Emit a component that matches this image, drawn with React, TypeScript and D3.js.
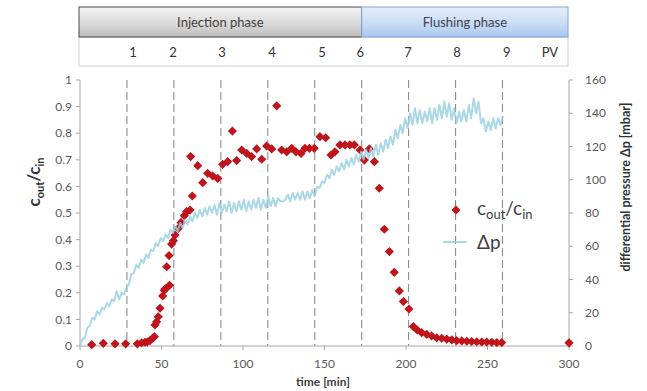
import React from "react";
import * as d3 from "d3";

const W = 647;
const H = 391;

const xTicks = [0, 50, 100, 150, 200, 250, 300];
const yLeftTicks = [0, 0.1, 0.2, 0.3, 0.4, 0.5, 0.6, 0.7, 0.8, 0.9, 1];
const yLeftLabels = ["0", "0.1", "0.2", "0.3", "0.4", "0.5", "0.6", "0.7", "0.8", "0.9", "1"];
const yRightTicks = [0, 20, 40, 60, 80, 100, 120, 140, 160];

const pvBoundaries = [28.8, 57.6, 86.4, 115.2, 144, 172.8, 201.6, 230.4, 259.2];
const pvLabels = ["1", "2", "3", "4", "5", "6", "7", "8", "9", "PV"];
const pvLabelTimes = [32.5, 57.1, 87.1, 117.8, 148.5, 172, 201.2, 231.3, 261.9, 288.3];
const phaseNames = ["Injection phase", "Flushing phase"];
const phaseEnd = 172.8;

const cTime = [
  7.2, 14.3, 21.5, 28, 35.2, 37.8, 39.9, 41.3, 42.9, 44.6, 45.6, 46, 47, 48, 49.1, 50.7, 51.7,
  52.3, 54.9, 53.2, 54.6, 56.2, 57.3, 58.3, 60.3, 62, 64, 65.4, 67.5, 68.9, 67.9, 72.2, 75.3,
  78.3, 81.4, 84.5, 87.5, 90.6, 93.5, 96.1, 99.2, 102.3, 105.3, 108.4, 111.5, 114.5, 117.6,
  120.7, 123.7, 126.8, 129.9, 132.5, 135.6, 138, 140.7, 143.7, 147.2, 150.7, 154, 156.4, 159.5,
  162.6, 165.6, 168.3, 171.8, 174.4, 177.5, 180.6, 183.6, 186.7, 189.8, 192.8, 195.9, 198.4,
  201.8, 204.5, 206.9, 209.6, 212.7, 215.7, 218.8, 221.9, 225, 228.1, 231.1, 234.2, 237.3,
  240.3, 243.4, 246.5, 249.5, 252.6, 255.7, 258.7, 300,
];
const cRatio = [
  0.005, 0.01, 0.008, 0.008, 0.008, 0.012, 0.014, 0.015, 0.02, 0.029, 0.035, 0.079, 0.091, 0.11,
  0.142, 0.188, 0.21, 0.215, 0.228, 0.298, 0.34, 0.383, 0.396, 0.417, 0.442, 0.464, 0.49, 0.505,
  0.511, 0.564, 0.712, 0.678, 0.614, 0.649, 0.639, 0.63, 0.683, 0.693, 0.808, 0.697, 0.737,
  0.724, 0.712, 0.741, 0.702, 0.752, 0.741, 0.903, 0.737, 0.73, 0.743, 0.73, 0.724, 0.743,
  0.743, 0.743, 0.787, 0.783, 0.718, 0.73, 0.756, 0.756, 0.756, 0.756, 0.737, 0.699, 0.741,
  0.693, 0.593, 0.439, 0.355, 0.277, 0.207, 0.167, 0.139, 0.073, 0.06, 0.05, 0.044, 0.038,
  0.031, 0.029, 0.026, 0.023, 0.02, 0.019, 0.018, 0.017, 0.016, 0.015, 0.015, 0.014, 0.013,
  0.013, 0.012,
];

const dpStep = 1.5;
const dpValues = [
  0, 4, 5, 11, 12, 17, 16, 21, 19, 23,
  22, 26, 24, 28, 27, 33, 28, 32, 31, 35,
  37, 43, 44, 49, 47, 52, 50, 55, 53, 58,
  57, 62, 60, 65, 63, 67, 65, 70, 68, 72,
  69, 74, 71, 76, 73, 78, 75, 80, 77, 82,
  78, 83, 79, 84, 80, 85, 79, 86, 80, 85,
  81, 87, 80, 86, 81, 87, 82, 88, 81, 87,
  82, 88, 83, 89, 82, 88, 83, 90, 84, 89,
  84, 89, 87, 87, 88, 91, 87, 92, 88, 92,
  88, 93, 88, 93, 89, 94, 90, 96, 95, 99,
  98, 103, 101, 106, 103, 108, 105, 110, 106, 112,
  108, 113, 109, 115, 111, 117, 112, 118, 113, 119,
  114, 121, 115, 122, 117, 124, 119, 126, 121, 130,
  125, 133, 128, 137, 131, 140, 133, 143, 134, 142,
  134, 141, 135, 143, 134, 143, 136, 145, 137, 147,
  138, 146, 136, 143, 134, 141, 135, 142, 135, 145,
  137, 149, 140, 147, 134, 137, 129, 135, 130, 137,
  131, 137, 133, 138,
];

const FONT = "Lato, 'Open Sans', sans-serif";
const RED = "#c0141c";
const BLUE = "#98cfe0";
const AXIS = "#a6a6a6";
const TICKTXT = "#595959";

export default function App() {
  const x = d3.scaleLinear().domain([0, 300]).range([80, 569]);
  const yL = d3.scaleLinear().domain([0, 1]).range([346, 80]);
  const yR = d3.scaleLinear().domain([0, 160]).range([346, 80]);
  const plotTop = yL(1);
  const plotBottom = yL(0);
  const left = x(0);
  const right = x(300);

  const dpLine = d3
    .line<number>()
    .x((_, i) => x(i * dpStep))
    .y((d) => yR(d));
  const diamond = d3.symbol().type(d3.symbolSquare).size(42)();

  const headTop = 7;
  const headMid = 37;
  const headBot = 66;
  const hx0 = left - 1;
  const hx1 = right - 1;
  const hSplit = x(phaseEnd);

  return (
    <svg width={W} height={H} style={{ position: "absolute", left: 0, top: 0 }} fontFamily={FONT}>
      <defs>
        <linearGradient id="gInj" x1="0" y1="0" x2="0" y2="1">
          <stop offset="0" stopColor="#f4f4f4" />
          <stop offset="0.55" stopColor="#d9d9d9" />
          <stop offset="1" stopColor="#bdbdbd" />
        </linearGradient>
        <linearGradient id="gFl" x1="0" y1="0" x2="0" y2="1">
          <stop offset="0" stopColor="#e6effb" />
          <stop offset="0.55" stopColor="#c9dcf5" />
          <stop offset="1" stopColor="#a9c7ef" />
        </linearGradient>
      </defs>
      <rect width={W} height={H} fill="#fff" />

      {/* header */}
      <rect x={hx0} y={headMid} width={hx1 - hx0} height={headBot - headMid} fill="#fff" stroke="#d0d0d0" strokeWidth={1} />
      <rect x={hx0} y={headTop} width={hSplit - hx0} height={headMid - headTop} fill="url(#gInj)" stroke="#4a4a4a" strokeWidth={1} />
      <rect x={hSplit} y={headTop} width={hx1 - hSplit} height={headMid - headTop} fill="url(#gFl)" stroke="#7fa3d8" strokeWidth={1} />
      <text x={(hx0 + hSplit) / 2} y={headTop + 15} dy="0.35em" textAnchor="middle" fontSize={13} fill="#404040">
        {phaseNames[0]}
      </text>
      <text x={(hSplit + hx1) / 2} y={headTop + 15} dy="0.35em" textAnchor="middle" fontSize={13} fill="#404050">
        {phaseNames[1]}
      </text>
      {pvLabels.map((l, i) => (
        <text key={l} x={x(pvLabelTimes[i])} y={52} dy="0.35em" textAnchor="middle" fontSize={13} fill="#333">
          {l}
        </text>
      ))}

      {/* dashed PV lines */}
      {pvBoundaries.map((t) => (
        <line key={t} x1={x(t)} x2={x(t)} y1={plotTop} y2={plotBottom} stroke="#8c8c8c" strokeWidth={1.1} strokeDasharray="8,4" />
      ))}

      {/* axes */}
      <line x1={left} x2={left} y1={plotTop} y2={plotBottom} stroke={AXIS} />
      <line x1={right} x2={right} y1={plotTop} y2={plotBottom} stroke={AXIS} />
      <line x1={left} x2={right} y1={plotBottom} y2={plotBottom} stroke={AXIS} />
      {yLeftTicks.map((v, i) => (
        <g key={"l" + v}>
          <line x1={left - 4} x2={left} y1={yL(v)} y2={yL(v)} stroke={AXIS} />
          <text x={left - 8} y={yL(v)} dy="0.35em" textAnchor="end" fontSize={12} fill={TICKTXT}>
            {yLeftLabels[i]}
          </text>
        </g>
      ))}
      {yRightTicks.map((v) => (
        <g key={"r" + v}>
          <line x1={right} x2={right + 4} y1={yR(v)} y2={yR(v)} stroke={AXIS} />
          <text x={right + 16} y={yR(v)} dy="0.35em" textAnchor="start" fontSize={12} fill={TICKTXT}>
            {v}
          </text>
        </g>
      ))}
      {xTicks.map((v) => (
        <g key={"x" + v}>
          <line x1={x(v)} x2={x(v)} y1={plotBottom} y2={plotBottom + 4} stroke={AXIS} />
          <text x={x(v)} y={plotBottom + 18} dy="0.35em" textAnchor="middle" fontSize={12} fill={TICKTXT}>
            {v}
          </text>
        </g>
      ))}

      {/* axis titles */}
      <text x={323} y={386} textAnchor="middle" fontSize={12} fontWeight="bold" fill="#404040">
        time [min]
      </text>
      <text transform="translate(40,182) rotate(-90)" textAnchor="middle" fontWeight="bold" fill="#333" fontSize={17}>
        c<tspan fontSize={11} dy={4}>out</tspan>
        <tspan dy={-4}>/c</tspan>
        <tspan fontSize={11} dy={4}>in</tspan>
      </text>
      <text transform="translate(630,187) rotate(-90)" textAnchor="middle" fontWeight="bold" fill="#333" fontSize={12.5}>
        differential pressure Δp [mbar]
      </text>

      {/* c_out/c_in diamonds */}
      {cTime.map((t, i) => (
        <path key={"c" + i} d={diamond!} transform={`translate(${x(t)},${yL(cRatio[i])}) rotate(45)`} fill={RED} />
      ))}

      {/* delta p line */}
      <path d={dpLine(dpValues)!} fill="none" stroke={BLUE} strokeWidth={2} strokeOpacity={0.82} strokeLinejoin="round" />

      {/* legend */}
      <path d={diamond!} transform={`translate(456,210) rotate(45)`} fill={RED} />
      <text x={477} y={215} fontSize={19} fill="#404040">
        c<tspan fontSize={13} dy={4}>out</tspan>
        <tspan dy={-4}>/c</tspan>
        <tspan fontSize={13} dy={4}>in</tspan>
      </text>
      <line x1={443} x2={467} y1={242} y2={242} stroke={BLUE} strokeWidth={2} strokeOpacity={0.82} />
      <text x={477} y={249} fontSize={19} fill="#404040">
        Δp
      </text>
    </svg>
  );
}
